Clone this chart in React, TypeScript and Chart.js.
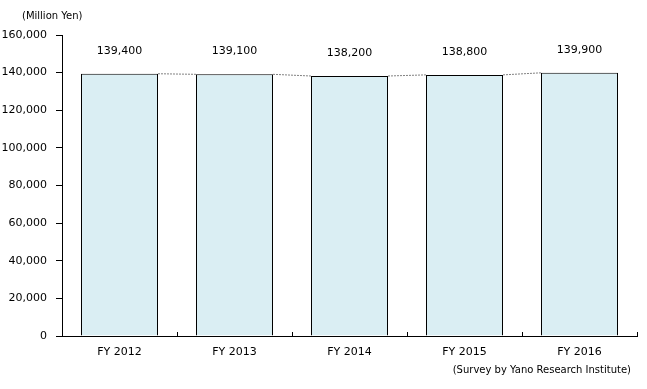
import React, { useEffect, useRef } from "react";
import { Chart, registerables } from "chart.js";

Chart.register(...registerables);

const categories = ["FY 2012", "FY 2013", "FY 2014", "FY 2015", "FY 2016"];
const values = [139400, 139100, 138200, 138800, 139900];
const yTicks = [0, 20000, 40000, 60000, 80000, 100000, 120000, 140000, 160000];
const unitLabel = "(Million Yen)";
const sourceLabel = "(Survey by Yano Research Institute)";

const FONT = "'DejaVu Sans', sans-serif";

const overlay = {
  id: "overlay",
  afterDatasetsDraw(chart: any) {
    const ctx = chart.ctx;
    const meta = chart.getDatasetMeta(0);
    const xs = chart.scales.x;
    const area = chart.chartArea;
    ctx.save();
    // dashed connectors
    ctx.strokeStyle = "#808080";
    ctx.lineWidth = 1;
    ctx.setLineDash([2, 1]);
    for (let i = 0; i < meta.data.length - 1; i++) {
      const a = meta.data[i] as any;
      const b = meta.data[i + 1] as any;
      ctx.beginPath();
      ctx.moveTo(a.x + a.width / 2, a.y);
      ctx.lineTo(b.x - b.width / 2, b.y);
      ctx.stroke();
    }
    ctx.setLineDash([]);
    // x tick marks between categories (pointing inward)
    ctx.strokeStyle = "#000";
    const n = categories.length;
    const step = (xs.right - xs.left) / n;
    for (let i = 1; i <= n; i++) {
      const x = Math.round(xs.left + i * step) + 0.5;
      ctx.beginPath();
      ctx.moveTo(x, area.bottom);
      ctx.lineTo(x, area.bottom - 4);
      ctx.stroke();
    }
    // value labels
    ctx.fillStyle = "#000";
    ctx.font = "11px " + FONT;
    ctx.textAlign = "center";
    ctx.textBaseline = "middle";
    meta.data.forEach((el: any, i: number) => {
      ctx.fillText(values[i].toLocaleString("en-US"), el.x, el.y - 23);
    });
    // texts
    ctx.font = "10px " + FONT;
    ctx.textAlign = "left";
    ctx.fillText(unitLabel, 22, 16);
    ctx.textAlign = "right";
    ctx.fillText(sourceLabel, 631, 370);
    ctx.restore();
  },
};

export default function App() {
  const ref = useRef<HTMLCanvasElement>(null);
  useEffect(() => {
    document.body.style.margin = "0";
    const chart = new Chart(ref.current!, {
      type: "bar",
      data: {
        labels: categories,
        datasets: [
          {
            data: values,
            backgroundColor: "#DAEEF3",
            borderColor: "#000",
            borderWidth: 1,
            categoryPercentage: 77 / 115,
            barPercentage: 1,
          },
        ],
      },
      options: {
        responsive: false,
        animation: false,
        layout: { padding: { top: 35, right: 10, left: 0, bottom: 0 } },
        plugins: { legend: { display: false }, tooltip: { enabled: false } },
        scales: {
          x: {
            grid: { display: false, drawTicks: false },
            border: { display: true, color: "#000", width: 1 },
            ticks: { color: "#000", font: { family: FONT, size: 11 }, padding: 10 },
            afterFit(s: any) {
              s.height = 53;
            },
          },
          y: {
            min: 0,
            max: 160000,
            afterBuildTicks(s: any) {
              s.ticks = yTicks.map((v) => ({ value: v }));
            },
            grid: { drawOnChartArea: false, tickLength: 6, color: "#000" },
            border: { display: true, color: "#000", width: 1 },
            ticks: {
              color: "#000",
              padding: 9,
              font: { family: FONT, size: 11 },
              callback: (v: any) => Number(v).toLocaleString("en-US"),
            },
            afterFit(s: any) {
              s.width = 62;
            },
          },
        },
      },
      plugins: [overlay],
    });
    return () => chart.destroy();
  }, []);
  return <canvas ref={ref} width={647} height={389} />;
}
